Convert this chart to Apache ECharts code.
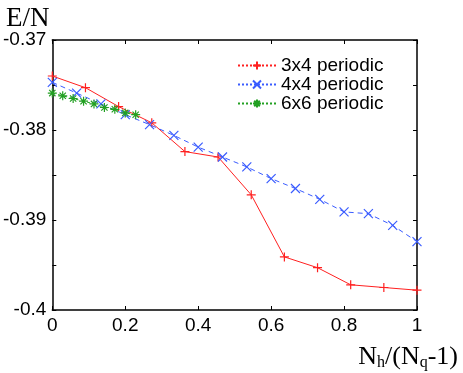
<!DOCTYPE html>
<html lang="en">
<head>
<meta charset="UTF-8" />
<title>E/N</title>
<script src="https://cdn.jsdelivr.net/npm/echarts@6/dist/echarts.min.js"></script>
<style>
  html, body { margin: 0; padding: 0; background: #fff; }
  #main { width: 463px; height: 373px; }
</style>
</head>
<body>
<div id="main"></div>
<script>
  // 3x4 periodic: x = Nh/11
  var x34 = [0, 1/11, 2/11, 3/11, 4/11, 5/11, 6/11, 7/11, 8/11, 9/11, 10/11, 1];
  var y34 = [-0.3740, -0.3753, -0.3774, -0.3792, -0.3824, -0.3830, -0.3872, -0.3941, -0.3953, -0.3972, -0.3975, -0.3978];
  // 4x4 periodic: x = Nh/15
  var x44 = [0, 1/15, 2/15, 3/15, 4/15, 5/15, 6/15, 7/15, 8/15, 9/15, 10/15, 11/15, 12/15, 13/15, 14/15, 1];
  var y44 = [-0.3747, -0.3759, -0.3771, -0.3783, -0.3794, -0.3806, -0.3819, -0.3830, -0.3841, -0.3854, -0.3865, -0.3877, -0.3891, -0.3893, -0.3906, -0.3924];
  // 6x6 periodic: x = Nh/35
  var x66 = [0, 1/35, 2/35, 3/35, 4/35, 5/35, 6/35, 7/35, 8/35];
  var y66 = [-0.3759, -0.3762, -0.3765, -0.3768, -0.3771, -0.3775, -0.3777, -0.3781, -0.3783];
  var names = ["3x4 periodic", "4x4 periodic", "6x6 periodic"];

  function pairs(xs, ys) {
    return xs.map(function (x, i) { return [x, ys[i]]; });
  }

  var plus = "path://M0,5L10,5M5,0L5,10";
  var cross = "path://M0,0L10,10M10,0L0,10";
  var star = "path://M0,5L10,5M5,0L5,10M1.5,1.5L8.5,8.5M8.5,1.5L1.5,8.5";

  function mk(name, data, color, sym, ltype) {
    return {
      name: name,
      type: "line",
      data: data,
      symbol: sym,
      symbolSize: 9,
      showAllSymbol: true,
      itemStyle: { color: color, borderColor: color, borderWidth: 1.2 },
      lineStyle: { color: color, width: 1, type: ltype },
      emphasis: { disabled: true },
      animation: false,
      z: 3
    };
  }

  var tick = { inside: true, length: 4, lineStyle: { color: "#000", width: 1 } };
  var axisBlack = { onZero: false, lineStyle: { color: "#000", width: 1.5 } };
  var lab = { color: "#000", fontFamily: "Liberation Sans", fontSize: 19, margin: 6 };

  var myChart = echarts.init(document.getElementById("main"));
  var option = {
    backgroundColor: "#fff",
    grid: { left: 50, right: 46, top: 40, bottom: 63 },
    title: [
      { text: "E/N", left: 1, top: 0, textStyle: { fontFamily: "Liberation Serif", fontSize: 27, fontWeight: "normal", color: "#000" } },
      {
        text: "{a|N}{s|h}{a|/(N}{s|q}{a|-1)}",
        right: 0, top: 338,
        textStyle: {
          fontWeight: "normal",
          rich: {
            a: { fontFamily: "Liberation Serif", fontSize: 26, fontWeight: "normal", color: "#000" },
            s: { fontFamily: "Liberation Serif", fontSize: 16, fontWeight: "normal", color: "#000", verticalAlign: "bottom", padding: [12, 0, 0, 0] }
          }
        }
      }
    ],
    legend: {
      orient: "vertical",
      left: 232, top: 51,
      itemWidth: 38, itemHeight: 10, itemGap: 0,
      textStyle: { fontFamily: "Liberation Sans", fontSize: 19, lineHeight: 18, color: "#000" },
      data: names.map(function (n) { return { name: n, lineStyle: { type: "dotted" } }; })
    },
    xAxis: [
      {
        type: "value", min: 0, max: 1, interval: 0.2,
        axisLine: axisBlack, axisTick: tick, axisLabel: lab,
        splitLine: { show: false }
      },
      {
        type: "value", min: 0, max: 1, interval: 0.2, position: "top",
        axisLine: axisBlack, axisTick: tick, axisLabel: { show: false },
        splitLine: { show: false }
      }
    ],
    yAxis: [
      {
        type: "value", min: -0.4, max: -0.37, interval: 0.005,
        axisLine: axisBlack, axisTick: tick,
        axisLabel: Object.assign({}, lab, {
          formatter: function (v) {
            var k = Math.round(v * 1000);
            if (k % 10 !== 0) return "";
            return String(parseFloat(v.toFixed(2)));
          }
        }),
        splitLine: { show: false }
      },
      {
        type: "value", min: -0.4, max: -0.37, interval: 0.005, position: "right",
        axisLine: axisBlack, axisTick: tick,
        axisLabel: { show: false },
        splitLine: { show: false }
      }
    ],
    series: [
      mk(names[0], pairs(x34, y34), "#ff2020", plus, "solid"),
      mk(names[1], pairs(x44, y44), "#3a5cff", cross, [5, 4]),
      mk(names[2], pairs(x66, y66), "#22a022", star, [3, 3])
    ]
  };
  myChart.setOption(option);
</script>
</body>
</html>
